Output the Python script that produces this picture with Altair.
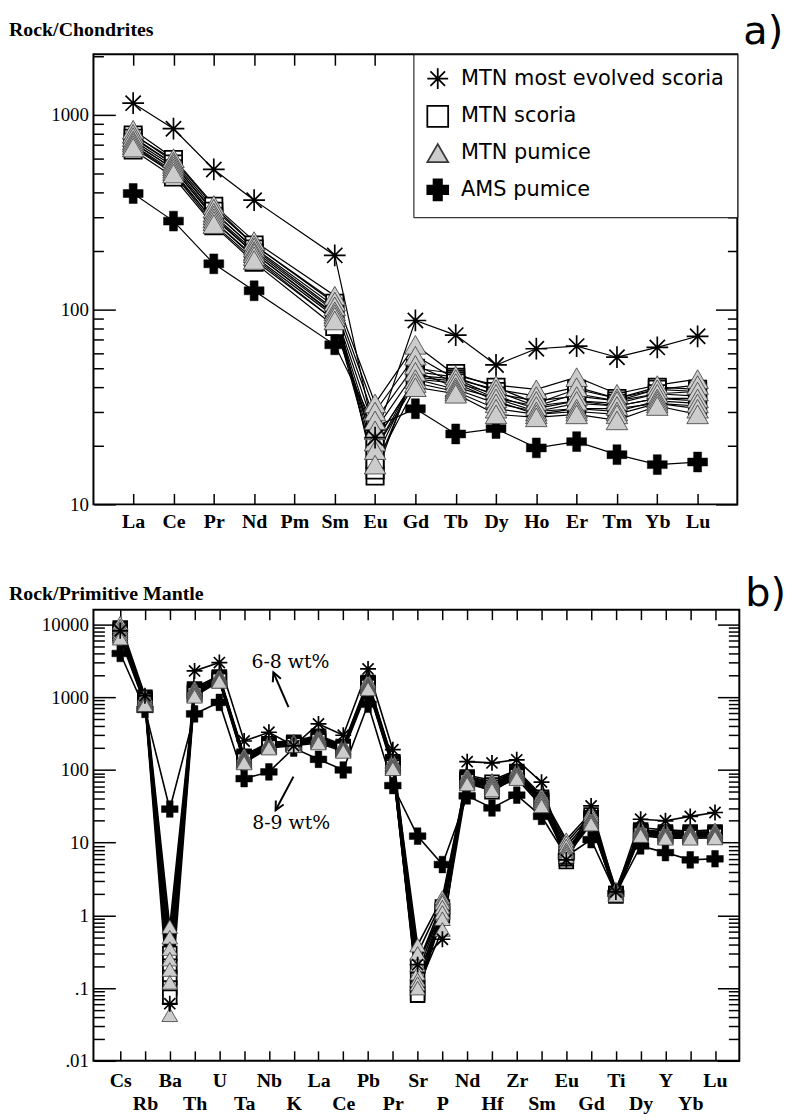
import altair as alt
import pandas as pd

SERIF = "Liberation Serif"
SANS = "DejaVu Sans"

GROUPS = ["MTN most evolved scoria", "MTN scoria", "MTN pumice", "AMS pumice"]
ASTER = "M-1,0L1,0M0,-1L0,1M-0.7,-0.7L0.7,0.7M-0.7,0.7L0.7,-0.7"
HEAD = "M-0.55,1.1L0,0L0.55,1.1"

# ---------------- panel a : Rock / Chondrites ----------------
REE = ["La", "Ce", "Pr", "Nd", "Pm", "Sm", "Eu", "Gd", "Tb", "Dy", "Ho", "Er", "Tm", "Yb", "Lu"]
ree_evolved = [1150, 850, 525, 365, None, 190, 22, 88, 74, 52, 63, 65, 57, 64, 73]
ree_ams = [395, 285, 172, 125, None, 66, 25, 31, 23, 24.5, 19.5, 21, 18, 16, 16.5]
ree_scoria = [
    [790, 590, 340, 215, None, 108, 14, 50, 47, 40, 33, 39, 35, 40, 39],
    [760, 560, 320, 205, None, 100, 15, 48, 45, 38, 32, 37, 34, 39, 38],
    [720, 530, 300, 195, None, 94, 17, 46, 44, 36, 31, 34, 33, 37, 36],
    [690, 505, 285, 185, None, 88, 19, 45, 43, 35, 30, 33, 32, 35, 34],
    [660, 480, 270, 175, None, 82, 21, 44, 42, 34, 29, 31, 31, 33, 32],
]
ree_pumice = [
    [840, 600, 345, 225, None, 118, 33, 66, 46, 41, 39, 45, 37, 41, 44],
    [800, 575, 330, 215, None, 110, 30, 58, 44, 39, 36, 40, 35, 39, 41],
    [770, 560, 315, 208, None, 104, 27, 52, 42, 37, 34, 36, 34, 37, 38],
    [740, 545, 305, 200, None, 98, 24, 48, 40, 35, 32, 34, 32, 35, 35],
    [720, 530, 295, 195, None, 95, 21, 44, 39, 33, 30, 31, 30, 34, 33],
    [700, 515, 285, 188, None, 92, 19, 42, 38, 31, 29, 30, 29, 33, 31],
    [680, 500, 275, 180, None, 88, 16, 40, 37, 29, 28, 29, 27, 32, 29],
]

# ---------------- panel b : Rock / Primitive Mantle ----------------
PM = ["Cs", "Rb", "Ba", "Th", "U", "Ta", "Nb", "K", "La", "Ce", "Pb", "Pr", "Sr",
      "P", "Nd", "Hf", "Zr", "Sm", "Eu", "Gd", "Ti", "Dy", "Y", "Yb", "Lu"]
pm_evolved = [8200, 1050, 0.061, 2300, 3000, 250, 330, 215, 430, 300, 2450, 190, 0.21,
              0.47, 130, 125, 138, 68, 5.8, 32, 2.1, 21, 20, 23, 26]
pm_ams = [4000, 680, 29, 590, 850, 76, 94, 200, 140, 100, 800, 61, 12.3,
          5.0, 44, 30, 45, 23, 6.5, 11, 2.0, 9, 7.3, 5.8, 6.0]
pm_scoria = [
    [9000, 1000, 0.3, 1300, 1900, 155, 230, 240, 290, 210, 1600, 130, 0.2, 1.3, 80, 68, 95, 42, 5.5, 24, 2.0, 15, 14, 14, 14],
    [8500, 950, 0.2, 1250, 1850, 150, 220, 235, 280, 205, 1550, 125, 0.13, 1.2, 77, 62, 92, 40, 6.0, 22, 1.9, 14, 13.5, 13.5, 13.5],
    [8000, 900, 0.14, 1200, 1800, 145, 215, 230, 270, 200, 1500, 120, 0.1, 1.15, 74, 58, 88, 38, 6.5, 21, 1.95, 14, 13, 13, 13],
    [7500, 850, 0.1, 1150, 1750, 140, 210, 225, 260, 195, 1450, 115, 0.085, 1.1, 72, 54, 85, 37, 7.0, 20, 2.0, 13.5, 12.5, 12.5, 13],
    [7000, 820, 0.075, 1100, 1700, 135, 205, 220, 250, 190, 1400, 110, 0.08, 1.0, 70, 50, 82, 35, 7.5, 19, 1.85, 13, 12, 12, 12.5],
]
pm_pumice = [
    [10500, 1050, 0.7, 1350, 2000, 160, 240, 250, 300, 220, 1700, 135, 0.39, 1.76, 85, 72, 100, 45, 11, 26, 2.3, 16, 15, 14.5, 15],
    [9500, 980, 0.5, 1280, 1900, 150, 230, 245, 285, 210, 1600, 128, 0.3, 1.6, 80, 68, 95, 42, 10, 24, 2.2, 15, 14, 14, 14],
    [8800, 930, 0.35, 1220, 1850, 145, 220, 240, 275, 205, 1500, 122, 0.21, 1.5, 76, 65, 90, 40, 9, 22, 2.1, 14.5, 13.5, 13.5, 13.5],
    [8200, 880, 0.25, 1180, 1800, 140, 215, 235, 265, 198, 1450, 118, 0.16, 1.3, 73, 62, 87, 38, 8, 21, 2.05, 14, 13, 13, 13],
    [7600, 850, 0.18, 1130, 1750, 135, 210, 228, 255, 192, 1400, 112, 0.13, 1.1, 70, 59, 84, 36, 7.5, 20, 2.0, 13.5, 12.5, 12.5, 12.5],
    [7000, 820, 0.12, 1080, 1700, 130, 205, 222, 245, 186, 1350, 108, 0.115, 0.9, 67, 56, 80, 34, 7, 19, 1.95, 13, 12, 12, 12],
    [6500, 790, 0.043, 1030, 1650, 125, 200, 215, 235, 180, 1300, 104, 0.1, 0.64, 64, 53, 76, 32, 6.5, 18, 1.9, 12.5, 11.5, 11.5, 11.6],
]

# annotations (panel b)
note_text = ["6-8 wt%", "8-9 wt%"]
note_x = [6.87, 6.9]
note_y = [3010, 18.6]
arrow_x = [6.79, 6.99]
arrow_y = [733, 81]
arrow_x2 = [6.18, 6.27]
arrow_y2 = [2200, 27.9]
arrow_angle = [337, 208]

MAJOR_TEST = "abs(log(datum.value) / LN10 - round(log(datum.value) / LN10)) < 0.001"


def long_table(elements, evolved, scoria, pumice, ams):
    rows = []

    def add(group, name, vals):
        for i, v in enumerate(vals):
            if v is not None:
                rows.append({"group": group, "sample": name, "i": i, "el": elements[i], "v": v})

    for k, s in enumerate(scoria):
        add("MTN scoria", f"S{k}", s)
    add("AMS pumice", "A", ams)
    for k, s in enumerate(pumice):
        add("MTN pumice", f"P{k}", s)
    add("MTN most evolved scoria", "E", evolved)
    return pd.DataFrame(rows)


def log_ticks(lo, hi, top):
    out = []
    for k in range(lo, hi + 1):
        for m in range(1, 10):
            v = round(m * 10.0 ** k, 6)
            if v <= top:
                out.append(v)
    return out


def panel(df, names, xdom, ydom, W, H, lo_exp, hi_exp, right_max, top_n,
          label_pad, ytk_major, ytk_minor, xtk, sizes, lw, title_txt, title_y,
          tag, tag_y, legend, extra):
    xs = alt.Scale(domain=xdom, nice=False, zero=False)
    ys = alt.Scale(type="log", domain=ydom, nice=False)
    decades = [round(10.0 ** k, 6) for k in range(lo_exp, hi_exp + 1) if 10.0 ** k <= ydom[1]]
    allt = log_ticks(lo_exp, hi_exp, ydom[1])
    minors = [v for v in allt if v not in decades]
    right_vals = [v for v in allt if v <= right_max]
    names_expr = "[" + ",".join("'" + n + "'" for n in names) + "][datum.value]"
    tick_style = dict(tickColor="black", tickWidth=1.5, domain=False, grid=False, title=None)

    ax_bottom = alt.Axis(orient="bottom", values=list(range(len(names))), labelExpr=names_expr,
                         offset=-xtk, tickSize=xtk, labelFont=SERIF, labelFontWeight="bold",
                         labelFontSize=20, labelColor="black", labelPadding=label_pad,
                         labelFlush=False, labelOverlap=False, **tick_style)
    # top inner ticks: a bottom-oriented axis moved up to the top edge
    ax_top = alt.Axis(orient="bottom", values=list(range(top_n)), offset=-H, tickSize=xtk,
                      labels=False, **tick_style)
    ax_left = alt.Axis(orient="left", values=decades, offset=-ytk_major, tickSize=ytk_major,
                       labelExpr="datum.value >= 1 ? format(datum.value, 'd') : substring(format(datum.value, '~g'), 1)",
                       labelFont=SERIF, labelFontSize=19, labelColor="black", labelPadding=5,
                       labelFlush=False, labelOverlap=False, **tick_style)
    ax_left_minor = alt.Axis(orient="right", values=minors, offset=-W, tickSize=ytk_minor,
                             labels=False, **tick_style)
    ax_right = alt.Axis(orient="left", values=right_vals, offset=-W,
                        tickSize={"condition": {"test": MAJOR_TEST, "value": ytk_major}, "value": ytk_minor},
                        labels=False, **tick_style)

    shape_sc = alt.Scale(domain=GROUPS, range=[ASTER, "square", "triangle-up", "cross"])
    fill_sc = alt.Scale(domain=GROUPS, range=["white", "white", "#cccccc", "black"])
    stroke_sc = alt.Scale(domain=GROUPS, range=["black", "black", "#3a3a3a", "black"])

    def pts(group, size, sw, xaxis, yaxis):
        return alt.Chart(df).transform_filter(alt.datum.group == group).mark_point(
            filled=True, opacity=1, size=size, strokeWidth=sw
        ).encode(
            x=alt.X("i:Q", scale=xs, axis=xaxis),
            y=alt.Y("v:Q", scale=ys, axis=yaxis),
            shape=alt.Shape("group:N", scale=shape_sc, legend=legend),
            fill=alt.Fill("group:N", scale=fill_sc, legend=legend),
            stroke=alt.Stroke("group:N", scale=stroke_sc, legend=legend),
        )

    lines = alt.Chart(df).mark_line(color="black", strokeWidth=lw).encode(
        x=alt.X("i:Q", scale=xs, axis=ax_bottom),
        y=alt.Y("v:Q", scale=ys, axis=ax_left),
        detail="sample:N",
    )
    squares = pts("MTN scoria", sizes[1], 1.8, ax_top, ax_left_minor)
    crosses = pts("AMS pumice", sizes[3], 0.5, None, None)
    triangles = pts("MTN pumice", sizes[2], 0.8, None, ax_right)
    stars = pts("MTN most evolved scoria", sizes[0], 1.7, None, None)

    title = alt.Chart(pd.DataFrame({"t": [title_txt]})).mark_text(
        font=SERIF, fontWeight="bold", fontSize=20, align="left", baseline="alphabetic", color="black"
    ).encode(text="t:N", x=alt.value(-85), y=alt.value(title_y))
    tagm = alt.Chart(pd.DataFrame({"t": [tag]})).mark_text(
        font=SANS, fontSize=40, align="left", baseline="alphabetic", color="black"
    ).encode(text="t:N", x=alt.value(W + 6), y=alt.value(tag_y))

    layers = [title, tagm, lines, squares, crosses, triangles, stars] + extra(xs, ys)
    return alt.layer(*layers).resolve_axis(x="independent", y="independent").properties(width=W, height=H)


df_a = long_table(REE, ree_evolved, ree_scoria, ree_pumice, ree_ams)
df_b = long_table(PM, pm_evolved, pm_scoria, pm_pumice, pm_ams)

leg_a = alt.Legend(orient="top-right", offset=0, title=None, fillColor="white", strokeColor="black",
                   padding=13, labelFont=SANS, labelFontSize=21, labelColor="black", labelLimit=0,
                   symbolSize=440, symbolStrokeWidth=1.8, rowPadding=9, labelOffset=12, zindex=3)


def no_extra(xs, ys):
    return []


def notes(xs, ys):
    tdf = pd.DataFrame({"t": note_text, "x": note_x, "y": note_y})
    adf = pd.DataFrame({"x": arrow_x, "y": arrow_y, "x2": arrow_x2, "y2": arrow_y2, "a": arrow_angle})
    txt = alt.Chart(tdf).mark_text(font="DejaVu Serif", fontSize=19, color="black").encode(
        x=alt.X("x:Q", scale=xs, axis=None), y=alt.Y("y:Q", scale=ys, axis=None), text="t:N")
    shaft = alt.Chart(adf).mark_rule(color="black", strokeWidth=2).encode(
        x=alt.X("x:Q", scale=xs, axis=None), y=alt.Y("y:Q", scale=ys, axis=None), x2="x2:Q", y2="y2:Q")
    head = alt.Chart(adf).mark_point(shape=HEAD, size=260, filled=False, stroke="black",
                                     strokeWidth=2, opacity=1).encode(
        x=alt.X("x2:Q", scale=xs, axis=None), y=alt.Y("y2:Q", scale=ys, axis=None),
        angle=alt.Angle("a:Q", scale=None))
    return [txt, shaft, head]


pa = panel(df_a, REE, [-0.985, 14.985], [10, 2050], 648, 453, 1, 3, 300, 7,
           7, 22, 10, 11, [480, 300, 470, 400], 1.2, "Rock/Chondrites", -18,
           "a)", -10, leg_a, no_extra)

pb = panel(df_b, PM, [-1.08, 24.98], [0.01, 16000], 650, 454, -2, 4, 16000, 25,
           {"condition": {"test": "datum.value % 2 == 1", "value": 33}, "value": 10},
           22, 11, 10, [256, 190, 250, 280], 1.6, "Rock/Primitive Mantle", -10,
           "b)", -4, None, notes)

chart = alt.vconcat(pa, pb, spacing=41).resolve_scale(
    shape="independent", fill="independent", stroke="independent"
).properties(padding=0).configure_view(stroke="black", strokeWidth=2)

chart.save("out.html", embed_options={"renderer": "svg", "actions": False})
